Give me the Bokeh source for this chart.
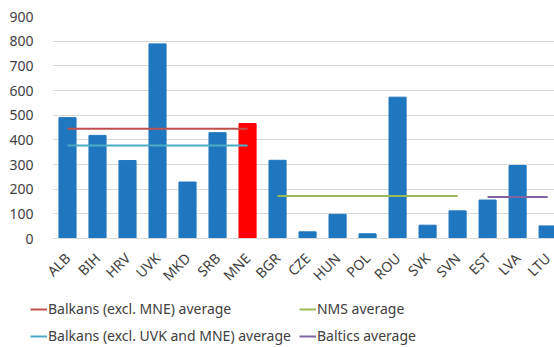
from bokeh.plotting import figure
from bokeh.layouts import column
from bokeh.models import Range1d, FixedTicker, Legend, LegendItem, ColumnDataSource
from bokeh.embed import file_html
from bokeh.resources import INLINE
import math

categories = ["ALB", "BIH", "HRV", "UVK", "MKD", "SRB", "MNE", "BGR", "CZE",
              "HUN", "POL", "ROU", "SVK", "SVN", "EST", "LVA", "LTU"]
values = [490, 418, 316, 789, 229, 429, 466, 317, 27, 98, 19, 573, 54, 112, 156, 296, 51]
highlight = "MNE"
y_ticks = [0, 100, 200, 300, 400, 500, 600, 700, 800, 900]

avg_names = ["Balkans (excl. MNE) average", "Balkans (excl. UVK and MNE) average",
             "NMS average", "Baltics average"]
avg_values = [445, 377, 172, 168]
avg_start = ["ALB", "ALB", "BGR", "EST"]
avg_end = ["MNE", "MNE", "SVN", "LTU"]
avg_colors = ["#C0504D", "#4BACC6", "#9BBB59", "#8064A2"]

FONT = "Noto Sans"
TXT = "#404040"

idx = list(range(len(categories)))
colors = ["#FF0000" if c == highlight else "#1F77BF" for c in categories]
src = ColumnDataSource(dict(x=idx, top=values, color=colors))

p = figure(width=554, height=294, output_backend="svg", toolbar_location=None,
           x_range=Range1d(-0.5, 16.23), y_range=Range1d(0, 900),
           min_border_left=52, min_border_right=0, min_border_top=16, min_border_bottom=55)
p.outline_line_color = None

p.vbar(x="x", top="top", width=0.57, color="color", source=src)

for v, s, e, col in zip(avg_values, avg_start, avg_end, avg_colors):
    p.line([categories.index(s), categories.index(e)], [v, v], line_color=col, line_width=2)

p.xgrid.grid_line_color = None
p.ygrid.grid_line_color = "#D9D9D9"
p.ygrid.ticker = FixedTicker(ticks=y_ticks)

p.yaxis.ticker = FixedTicker(ticks=y_ticks)
p.yaxis.axis_line_color = None
p.yaxis.major_tick_line_color = None
p.yaxis.minor_tick_line_color = None
p.yaxis.major_label_standoff = 13
p.yaxis.major_label_text_font = FONT
p.yaxis.major_label_text_font_size = "14px"
p.yaxis.major_label_text_color = TXT

p.xaxis.ticker = FixedTicker(ticks=idx)
p.xaxis.major_label_overrides = {i: c for i, c in zip(idx, categories)}
p.xaxis.axis_line_color = "#D9D9D9"
p.xaxis.major_tick_line_color = None
p.xaxis.minor_tick_line_color = None
p.xaxis.major_label_orientation = math.pi / 4
p.xaxis.major_label_standoff = 11
p.xaxis.major_label_text_font = FONT
p.xaxis.major_label_text_font_size = "14px"
p.xaxis.major_label_text_color = TXT

# legend strip below the chart (its lines lie outside its own ranges, only the key shows)
p2 = figure(width=554, height=53, output_backend="svg", toolbar_location=None,
            x_range=Range1d(0, 1), y_range=Range1d(0, 1),
            x_axis_type=None, y_axis_type=None,
            min_border_left=0, min_border_right=0, min_border_top=0, min_border_bottom=0)
p2.outline_line_color = None
p2.grid.visible = False

legend_x = 30
try:
    p.frame_align = False
    p2.frame_align = False
except Exception:
    legend_x = 0

items = []
for name, v, s, e, col in zip(avg_names, avg_values, avg_start, avg_end, avg_colors):
    r = p2.line([categories.index(s), categories.index(e)], [v, v], line_color=col, line_width=2)
    items.append(LegendItem(label=name, renderers=[r]))
legend = Legend(items=items, ncols=2, location=(legend_x, 2),
                label_text_font=FONT, label_text_font_size="14px", label_text_color=TXT,
                glyph_width=17, glyph_height=14, label_height=14, label_standoff=1,
                spacing=8, padding=0, margin=0,
                border_line_color=None, background_fill_alpha=0)
p2.add_layout(legend, "center")

layout = column(p, p2, spacing=0)
open("out.html", "w").write(file_html(layout, INLINE))
